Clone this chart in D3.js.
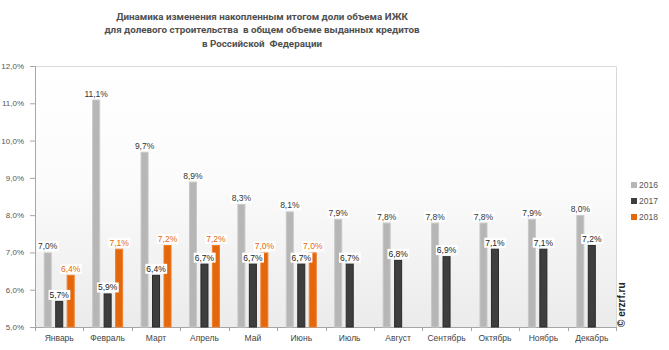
<!DOCTYPE html>
<html>
<head>
<meta charset="utf-8">
<script src="https://cdn.jsdelivr.net/npm/d3@7/dist/d3.min.js"></script>
<style>
  html, body { margin: 0; padding: 0; background: #fff; }
  svg { display: block; }
</style>
</head>
<body>
<svg id="chart" width="669" height="350"></svg>
<script>
// Share of IZhS loans for shared construction, cumulative, % by month
const months = ["Январь", "Февраль", "Март", "Апрель", "Май", "Июнь",
                "Июль", "Август", "Сентябрь", "Октябрь", "Ноябрь", "Декабрь"];
const seriesNames = ["2016", "2017", "2018"];
const values2016 = [7.0, 11.1, 9.7, 8.9, 8.3, 8.1, 7.9, 7.8, 7.8, 7.8, 7.9, 8.0];
const values2017 = [5.7, 5.9, 6.4, 6.7, 6.7, 6.7, 6.7, 6.8, 6.9, 7.1, 7.1, 7.2];
const values2018 = [6.4, 7.1, 7.2, 7.2, 7.0, 7.0];
const yTicks = [5, 6, 7, 8, 9, 10, 11, 12];
const titleLines = [
  "Динамика изменения накопленным итогом доли объема ИЖК",
  "для долевого строительства  в общем объеме выданных кредитов",
  "в Российской  Федерации"
];

const seriesValues = [values2016, values2017, values2018];
const fills   = ["#b6b6b6", "#3e3e3e", "#e4680b"];
const strokes = ["#c8c8c8", "#2a2a2a", "#ee7f2c"];
const labelColors = ["#333", "#222", "#e4680b"];

const svg = d3.select("#chart");
const plotLeft = 35, plotRight = 616, plotTop = 66, plotBottom = 327;
const smallFont = "'Liberation Sans Narrow', 'Arial Narrow', 'Liberation Sans', Arial, sans-serif";

const fmt = v => d3.format(".1f")(v).replace(".", ",") + "%";

// Plot background gradient
const defs = svg.append("defs");
const grad = defs.append("linearGradient").attr("id", "plotBg")
  .attr("x1", 0).attr("y1", 0).attr("x2", 0).attr("y2", 1);
grad.append("stop").attr("offset", "0%").attr("stop-color", "#ffffff");
grad.append("stop").attr("offset", "45%").attr("stop-color", "#fbfbfb");
grad.append("stop").attr("offset", "100%").attr("stop-color", "#ebebeb");

svg.append("rect").attr("x", plotLeft).attr("y", plotTop)
  .attr("width", plotRight - plotLeft).attr("height", plotBottom - plotTop)
  .attr("fill", "url(#plotBg)");
svg.append("path")
  .attr("d", `M${plotLeft},${plotTop + 0.5}H${plotRight + 0.5}V${plotBottom}`)
  .attr("fill", "none").attr("stroke", "#d9d9d9");

// Scales
const x0 = d3.scaleBand().domain(months).range([plotLeft, plotRight])
  .paddingInner(0.36).paddingOuter(0.18);
const x1 = d3.scaleBand().domain(seriesNames).range([0, x0.bandwidth()])
  .paddingInner(0.3).paddingOuter(0);
const y = d3.scaleLinear().domain([5, 12]).range([plotBottom, plotTop]);

// Title
svg.append("text")
  .attr("x", 262).attr("y", 19.5)
  .attr("text-anchor", "middle")
  .attr("font-family", "Roboto, 'Liberation Sans', sans-serif")
  .attr("font-weight", "bold").attr("font-size", 9.8)
  .attr("fill", "#505050")
  .selectAll("tspan").data(titleLines).join("tspan")
  .attr("x", 262).attr("dy", (d, i) => i === 0 ? 0 : 13.5)
  .attr("xml:space", "preserve")
  .text(d => d);

// Y axis
const yAxis = svg.append("g").attr("transform", `translate(${plotLeft},0)`)
  .call(d3.axisLeft(y).tickValues(yTicks).tickSize(5).tickPadding(6).tickFormat(fmt));
yAxis.select(".domain").attr("stroke", "#a6a6a6");
yAxis.selectAll(".tick line").attr("stroke", "#a6a6a6");
yAxis.selectAll(".tick text").attr("fill", "#555")
  .attr("font-family", smallFont).attr("font-size", 8);

// X axis: ticks sit on category boundaries
const xAxisG = svg.append("g").attr("transform", `translate(0,${plotBottom})`);
xAxisG.append("line").attr("x1", plotLeft).attr("x2", plotRight)
  .attr("y1", 0.5).attr("y2", 0.5).attr("stroke", "#a6a6a6");
const boundaries = d3.range(months.length + 1).map(i => plotLeft + i * x0.step());
xAxisG.selectAll("line.tk").data(boundaries).join("line").attr("class", "tk")
  .attr("x1", d => Math.round(d) + 0.5).attr("x2", d => Math.round(d) + 0.5)
  .attr("y1", 0).attr("y2", 4).attr("stroke", "#a6a6a6");
xAxisG.selectAll("text").data(months).join("text")
  .attr("x", d => x0(d) + x0.bandwidth() / 2).attr("y", 14)
  .attr("text-anchor", "middle")
  .attr("font-family", smallFont).attr("font-size", 8.5)
  .attr("fill", "#444")
  .text(d => d);

// Bars
const barData = [];
months.forEach((m, i) => {
  seriesNames.forEach((s, k) => {
    const v = seriesValues[k][i];
    if (v !== undefined) barData.push({ month: m, series: s, k, value: v });
  });
});

const bars = svg.append("g");
bars.selectAll("rect").data(barData).join("rect")
  .attr("x", d => x0(d.month) + x1(d.series) + 0.5)
  .attr("y", d => y(d.value) + 0.5)
  .attr("width", x1.bandwidth() - 1)
  .attr("height", d => plotBottom - y(d.value) - 0.5)
  .attr("fill", d => fills[d.k])
  .attr("stroke", d => strokes[d.k]);

// Value labels with white boxes
const labels = svg.append("g");
const lg = labels.selectAll("g").data(barData).join("g");
lg.append("text")
  .attr("x", d => x0(d.month) + x1(d.series) + x1.bandwidth() / 2)
  .attr("y", d => y(d.value) - 3)
  .attr("text-anchor", "middle")
  .attr("font-family", smallFont).attr("font-size", 8.5)
  .attr("fill", d => labelColors[d.k])
  .text(d => fmt(d.value));
lg.each(function () {
  const g = d3.select(this);
  const bb = g.select("text").node().getBBox();
  g.insert("rect", "text")
    .attr("x", bb.x - 1).attr("y", bb.y)
    .attr("width", bb.width + 2).attr("height", bb.height)
    .attr("fill", "#fff");
});

// Legend
const legend = svg.append("g");
const li = legend.selectAll("g").data(seriesNames).join("g")
  .attr("transform", (d, i) => `translate(631,${185 + i * 16})`);
li.append("rect").attr("x", 0).attr("y", -3).attr("width", 6).attr("height", 6)
  .attr("fill", (d, i) => fills[i]);
li.append("text").attr("x", 8).attr("y", 3)
  .attr("font-family", smallFont).attr("font-size", 8.5)
  .attr("fill", "#555").text(d => d);

// Copyright mark
svg.append("text")
  .attr("transform", `translate(624.5,327) rotate(-90)`)
  .attr("font-family", "'Liberation Sans', Arial, sans-serif")
  .attr("font-weight", "bold").attr("font-size", 10)
  .attr("fill", "#222")
  .text("© erzrf.ru");
</script>
</body>
</html>
